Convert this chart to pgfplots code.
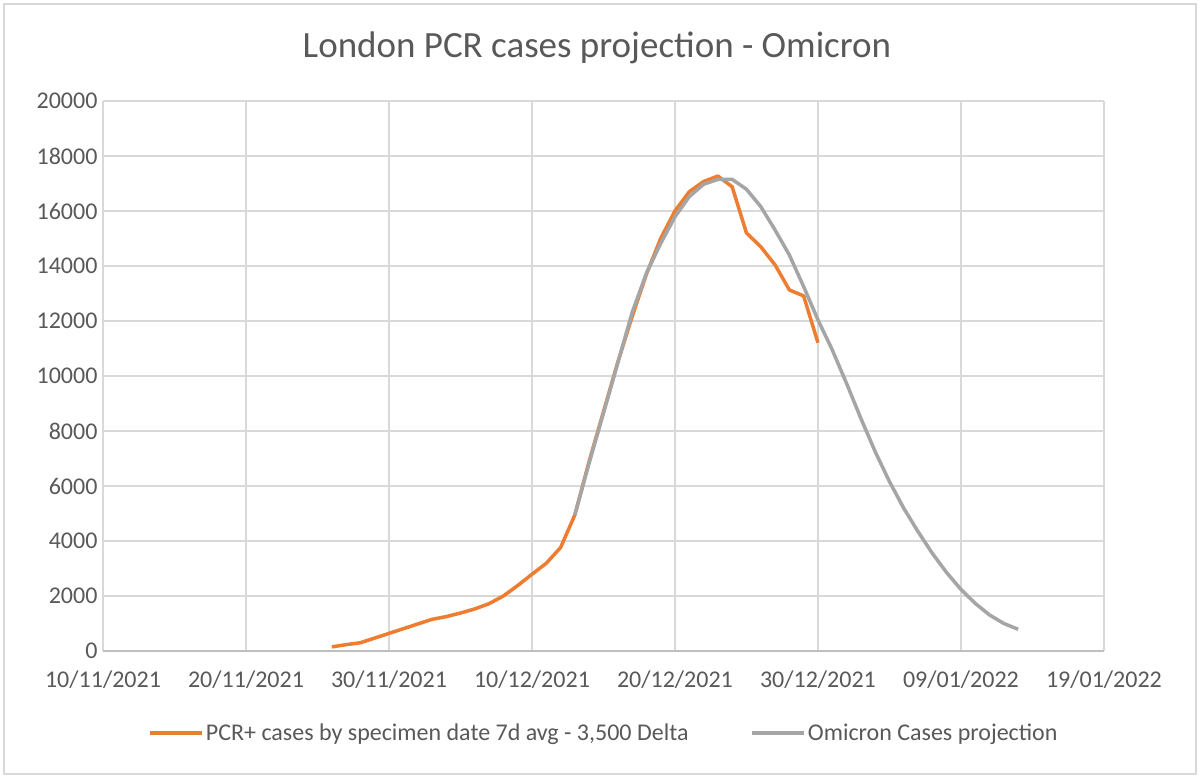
\documentclass[border=0pt]{standalone}
\usepackage{pgfplots}
\pgfplotsset{compat=1.18}
\usepackage{fontspec}
\setmainfont{Carlito}
\definecolor{pcrorange}{HTML}{ED7D31}
\definecolor{projgray}{HTML}{A5A5A5}
\definecolor{gridgray}{HTML}{D9D9D9}
\definecolor{axisgray}{HTML}{BFBFBF}
\definecolor{textgray}{HTML}{595959}
\begin{document}
\begin{tikzpicture}[x=1pt,y=1pt]
% chart area
\fill[white] (0,0) rectangle (1200,778);
\draw[gridgray, line width=1.2pt] (4,4) rectangle (1196,774);
\node[text=textgray, font=\fontsize{37}{44}\selectfont] at (597,730) {London PCR cases projection - Omicron};
\begin{axis}[
  at={(103pt,127pt)}, anchor=south west,
  scale only axis, width=1001pt, height=550pt,
  xmin=0, xmax=70, ymin=0, ymax=20000,
  xtick={0,10,...,70},
  xticklabels={10/11/2021,20/11/2021,30/11/2021,10/12/2021,20/12/2021,30/12/2021,09/01/2022,19/01/2022},
  ytick={0,2000,...,20000},
  scaled y ticks=false,
  yticklabel={\pgfmathprintnumber[fixed,precision=0,1000 sep={}]{\tick}},
  /pgf/number format/assume math mode=true,
  grid=major,
  major grid style={draw=gridgray, line width=1.3pt},
  major tick length=0pt,
  axis x line*=bottom,
  x axis line style={draw=axisgray, line width=1.5pt, -},
  y axis line style={draw=none},
  ticklabel style={text=textgray, font=\fontsize{24}{29}\selectfont},
  yticklabel style={xshift=-2pt},
  xticklabel style={yshift=-16pt},
  legend style={at={(0.5005,-0.149)}, anchor=center, draw=none, fill=none,
    text=textgray, font=\fontsize{24}{29}\selectfont,
    /tikz/every even column/.append style={column sep=60pt}},
  legend columns=2,
  legend image code/.code={\draw[#1, line width=3.5pt] (0pt,0pt) -- (52pt,0pt);},
  clip=false,
]
% 7-day average PCR+ cases by specimen date (day 0 = 10/11/2021)
\addplot[pcrorange, line width=3.5pt, line join=round] coordinates {
(16,150) (17,230) (18,300) (19,470) (20,640) (21,810) (22,980) (23,1150)
(24,1250) (25,1380) (26,1530) (27,1720) (28,2000) (29,2380) (30,2790)
(31,3190) (32,3760) (33,4950) (34,6900) (35,8700) (36,10500) (37,12150)
(38,13700) (39,15000) (40,16000) (41,16700) (42,17070) (43,17270)
(44,16880) (45,15200) (46,14700) (47,14040) (48,13130) (49,12910) (50,11210)
};
\addlegendentry{PCR+ cases by specimen date 7d avg - 3,500 Delta}
% Omicron projection
\addplot[projgray, line width=3.5pt, line join=round] coordinates {
(33,4950) (34,6840) (35,8650) (36,10470) (37,12300) (38,13730) (39,14820)
(40,15790) (41,16520) (42,16970) (43,17150) (44,17150) (45,16790)
(46,16160) (47,15310) (48,14400) (49,13250) (50,12040) (51,10950)
(52,9730) (53,8460) (54,7250) (55,6160) (56,5190) (57,4340) (58,3550)
(59,2850) (60,2240) (61,1730) (62,1310) (63,1000) (64,790)
};
\addlegendentry{Omicron Cases projection}
\end{axis}
\end{tikzpicture}
\end{document}
